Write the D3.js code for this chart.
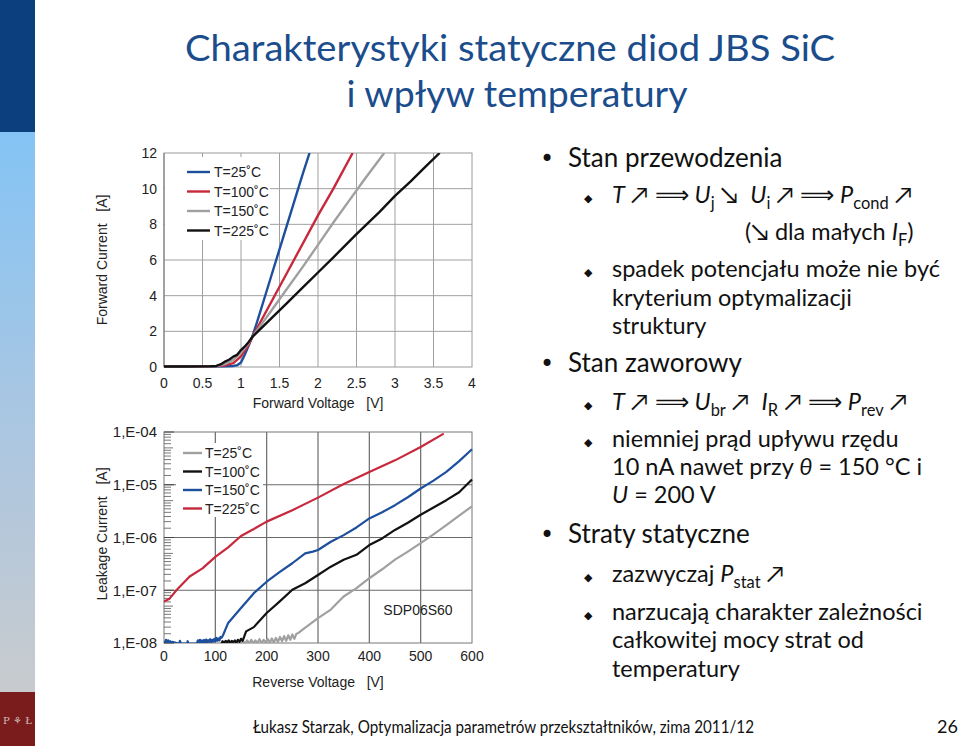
<!DOCTYPE html>
<html><head><meta charset="utf-8">
<script src="https://cdn.jsdelivr.net/npm/d3@7"></script>
<style>body{margin:0;background:#fff}svg{display:block}</style>
</head><body><svg id="c" width="960" height="746"></svg>
<script>
// ---------------- DATA ----------------
const tempLabels = ["T=25˚C", "T=100˚C", "T=150˚C", "T=225˚C"];
// Forward characteristics (V in volts, I in amperes)
const fwdV25  = [0,0.3,0.6,0.8,0.9,0.95,1.0,1.05,1.1,1.15,1.2,1.3,1.4,1.5,1.6,1.7,1.8,1.89];
const fwdI25  = [0.02,0.02,0.03,0.04,0.06,0.1,0.25,0.7,1.2,1.75,2.4,3.8,5.2,6.6,8.0,9.4,10.8,12];
const fwdV100 = [0,0.3,0.6,0.7,0.8,0.9,1.0,1.1,1.15,1.2,1.4,1.6,1.8,2.0,2.2,2.45];
const fwdI100 = [0.03,0.03,0.04,0.05,0.1,0.22,0.6,1.25,1.7,2.1,3.7,5.3,6.9,8.5,10.0,12];
const fwdV150 = [0,0.3,0.6,0.7,0.8,0.9,1.0,1.1,1.15,1.2,1.4,1.6,1.8,2.0,2.2,2.4,2.6,2.86];
const fwdI150 = [0.02,0.02,0.03,0.06,0.18,0.4,0.8,1.35,1.7,2.0,3.2,4.4,5.6,6.85,8.1,9.3,10.5,12];
const fwdV225 = [0,0.3,0.6,0.68,0.75,0.8,0.85,0.9,0.95,1.0,1.05,1.1,1.15,1.4,1.6,1.8,2.0,2.2,2.5,2.8,3.0,3.2,3.4,3.58];
const fwdI225 = [0.03,0.03,0.04,0.06,0.18,0.32,0.42,0.58,0.68,0.95,1.15,1.4,1.7,2.75,3.6,4.45,5.3,6.15,7.45,8.7,9.6,10.4,11.25,12];
const fwdXTicks = [0,0.5,1,1.5,2,2.5,3,3.5,4];
const fwdXTickLabels = ["0","0.5","1","1.5","2","2.5","3","3.5","4"];
const fwdYTicks = [0,2,4,6,8,10,12];

// Leakage characteristics (V in volts, I in amperes)
const leakV25  = [150,154,158,162,166,170,174,178,182,186,190,194,198,202,206,210,214,218,222,226,230,234,238,242,246,250,254,258,262,270,300,325,350,375,400,425,450,475,500,525,550,575,600];
const leakI25  = [0.97e-8,1.1e-8,0.97e-8,1.12e-8,0.98e-8,1.15e-8,0.98e-8,1.12e-8,1.0e-8,1.18e-8,1.0e-8,1.15e-8,1.02e-8,1.2e-8,1.0e-8,1.22e-8,1.02e-8,1.25e-8,1.05e-8,1.3e-8,1.08e-8,1.35e-8,1.1e-8,1.4e-8,1.15e-8,1.45e-8,1.2e-8,1.5e-8,1.55e-8,1.8e-8,2.96e-8,4.3e-8,7.6e-8,1.1e-7,1.69e-7,2.5e-7,3.8e-7,5.4e-7,7.8e-7,1.15e-6,1.72e-6,2.6e-6,3.9e-6];
const leakV100 = [112,114,117,120,123,126,129,132,135,138,141,144,147,150,153,156,160,175,200,225,250,275,300,325,350,375,400,425,450,475,500,525,550,575,600];
const leakI100 = [0.97e-8,1.08e-8,1.0e-8,1.1e-8,1.02e-8,1.12e-8,1.0e-8,1.1e-8,1.03e-8,1.12e-8,1.0e-8,1.15e-8,1.05e-8,1.2e-8,1.1e-8,1.3e-8,1.66e-8,2.0e-8,3.7e-8,6.1e-8,1.02e-7,1.36e-7,1.95e-7,2.8e-7,3.8e-7,4.7e-7,7.2e-7,9.6e-7,1.39e-6,1.9e-6,2.7e-6,3.7e-6,5.1e-6,7.2e-6,1.26e-5];
const leakV150 = [0,2,4,6,8,10,12,14,16,30,31,33,45,46,48,64,66,68,70,72,74,76,78,80,82,84,86,88,90,92,94,96,98,100,102,104,106,108,110,112,115,125,150,175,200,225,250,275,290,300,325,350,375,400,425,450,475,500,525,550,575,600];
const leakI150 = [1.1e-8,0.95e-8,1.15e-8,0.98e-8,1.12e-8,1.0e-8,1.08e-8,0.97e-8,1.05e-8,0.97e-8,1.1e-8,0.97e-8,0.97e-8,1.08e-8,0.97e-8,0.97e-8,1.12e-8,1.0e-8,1.15e-8,1.02e-8,1.12e-8,1.0e-8,1.14e-8,1.03e-8,1.16e-8,1.02e-8,1.13e-8,1.05e-8,1.18e-8,1.04e-8,1.15e-8,1.06e-8,1.2e-8,1.08e-8,1.25e-8,1.1e-8,1.22e-8,1.12e-8,1.3e-8,1.25e-8,1.4e-8,2.4e-8,4.6e-8,8.8e-8,1.45e-7,2.2e-7,3.25e-7,5.0e-7,5.4e-7,5.8e-7,8.3e-7,1.11e-6,1.55e-6,2.3e-6,3.0e-6,4.1e-6,5.8e-6,8.5e-6,1.2e-5,1.75e-5,2.8e-5,4.7e-5];
const leakV225 = [0,10,25,50,75,100,125,150,175,200,250,300,350,400,450,500,545];
const leakI225 = [6.1e-8,6.8e-8,1.02e-7,1.82e-7,2.6e-7,4.3e-7,6.5e-7,1.07e-6,1.45e-6,2.0e-6,3.3e-6,5.7e-6,1.03e-5,1.75e-5,2.9e-5,5.2e-5,9.3e-5];
const leakXTicks = [0,100,200,300,400,500,600];
const leakYTicks = [1e-8,1e-7,1e-6,1e-5,1e-4];
const leakYTickLabels = ["1,E-08","1,E-07","1,E-06","1,E-05","1,E-04"];
const leakMinor = [1.5,2,2.5,3,3.5,4,4.5,5,6,7,8,9];

// ---------------- DRAW ----------------
const svg = d3.select("#c");
const chartFont = "'Liberation Sans', Arial, sans-serif";
const textFont = "Lato, 'Open Sans', sans-serif";
const defs = svg.append("defs");

// sidebar
const grad = defs.append("linearGradient").attr("id","side").attr("x1",0).attr("y1",0).attr("x2",0).attr("y2",1);
grad.append("stop").attr("offset","0").attr("stop-color","#84c4f5");
grad.append("stop").attr("offset","0.5").attr("stop-color","#a9c6e2");
grad.append("stop").attr("offset","1").attr("stop-color","#c8cbce");
svg.append("rect").attr("x",0).attr("y",0).attr("width",35).attr("height",132).attr("fill","#0b3f7e");
svg.append("rect").attr("x",0).attr("y",132).attr("width",35).attr("height",560).attr("fill","url(#side)");
svg.append("rect").attr("x",0).attr("y",692).attr("width",35).attr("height",54).attr("fill","#7b1c1c");
svg.append("text").attr("x",17.5).attr("y",724).attr("text-anchor","middle")
  .attr("font-family","'DejaVu Serif', serif").attr("font-size",10).attr("fill","#cdbdbd").text("P ⚘ Ł");

// title
const titleG = svg.append("g").attr("font-family",textFont).attr("fill","#1b4d8c").attr("font-size",36).attr("text-anchor","middle");
titleG.append("text").attr("x",510).attr("y",61).attr("textLength",650).attr("lengthAdjust","spacingAndGlyphs").text("Charakterystyki statyczne diod JBS SiC");
titleG.append("text").attr("x",517).attr("y",107).attr("textLength",341).attr("lengthAdjust","spacingAndGlyphs").text("i wpływ temperatury");

// ---- forward chart ----
const xF = d3.scaleLinear().domain([0,4]).range([164,472]);
const yF = d3.scaleLinear().domain([0,12]).range([367,153]);
const gF = svg.append("g").attr("font-family",chartFont);
gF.append("g").selectAll("line").data(fwdXTicks.slice(1,-1)).join("line")
  .attr("x1",d=>xF(d)).attr("x2",d=>xF(d)).attr("y1",yF(0)).attr("y2",yF(12)).attr("stroke","#a0a0a0").attr("stroke-width",1);
gF.append("g").selectAll("line").data(fwdYTicks.slice(1,-1)).join("line")
  .attr("x1",xF(0)).attr("x2",xF(4)).attr("y1",d=>yF(d)).attr("y2",d=>yF(d)).attr("stroke","#a0a0a0").attr("stroke-width",1);
// legend background
gF.append("rect").attr("x",xF(0)+1).attr("y",yF(12)+4).attr("width",270-xF(0)-1).attr("height",240-yF(12)-4).attr("fill","#fff");
gF.append("rect").attr("x",xF(0)).attr("y",yF(12)).attr("width",xF(4)-xF(0)).attr("height",yF(0)-yF(12))
  .attr("fill","none").attr("stroke","#9a9a9a").attr("stroke-width",1);
gF.append("line").attr("x1",xF(0)).attr("x2",xF(0)).attr("y1",yF(0)).attr("y2",yF(12)).attr("stroke","#777");
gF.append("g").selectAll("text").data(fwdYTicks).join("text")
  .attr("x",157).attr("y",d=>yF(d)).attr("dy","0.36em").attr("text-anchor","end").attr("font-size",14).attr("fill","#222").text(d=>d);
gF.append("g").selectAll("text").data(fwdXTicks).join("text")
  .attr("x",d=>xF(d)).attr("y",388).attr("text-anchor","middle").attr("font-size",14).attr("fill","#222").text((d,i)=>fwdXTickLabels[i]);
gF.append("text").attr("x",318).attr("y",408).attr("text-anchor","middle").attr("font-size",14).attr("fill","#222")
  .attr("xml:space","preserve").text("Forward Voltage   [V]");
gF.append("text").attr("transform","translate(107,260) rotate(-90)").attr("text-anchor","middle").attr("font-size",14).attr("fill","#222")
  .attr("xml:space","preserve").text("Forward Current   [A]");

const fwdSeries = [
  {v:fwdV25,i:fwdI25,c:"#1d4f9c",name:tempLabels[0]},
  {v:fwdV100,i:fwdI100,c:"#c8283c",name:tempLabels[1]},
  {v:fwdV150,i:fwdI150,c:"#a0a0a0",name:tempLabels[2]},
  {v:fwdV225,i:fwdI225,c:"#111111",name:tempLabels[3]}
];
defs.append("clipPath").attr("id","clipF").append("rect").attr("x",xF(0)).attr("y",yF(12)).attr("width",xF(4)-xF(0)).attr("height",yF(0)-yF(12)+2);
const lineF = d3.line().x(d=>xF(d[0])).y(d=>yF(d[1]));
gF.append("g").attr("clip-path","url(#clipF)").selectAll("path").data(fwdSeries).join("path")
  .attr("d",s=>lineF(s.v.map((v,k)=>[v,s.i[k]]))).attr("fill","none").attr("stroke",s=>s.c).attr("stroke-width",2.4).attr("stroke-linejoin","round");
const legF = gF.append("g");
fwdSeries.forEach((s,k)=>{
  const y = 172 + k*19.5;
  legF.append("line").attr("x1",187).attr("x2",210).attr("y1",y).attr("y2",y).attr("stroke",s.c).attr("stroke-width",2.4);
  legF.append("text").attr("x",214).attr("y",y).attr("dy","0.36em").attr("font-size",14).attr("fill","#222").text(s.name);
});

// ---- leakage chart ----
const xL = d3.scaleLinear().domain([0,600]).range([164,472]);
const yL = d3.scaleLog().domain([1e-8,1e-4]).range([643,432]);
const gL = svg.append("g").attr("font-family",chartFont);
gL.append("g").selectAll("line").data(leakXTicks.slice(1,-1)).join("line")
  .attr("x1",d=>xL(d)).attr("x2",d=>xL(d)).attr("y1",yL(1e-8)).attr("y2",yL(1e-4)).attr("stroke","#6a6a6a").attr("stroke-width",1.2);
gL.append("g").selectAll("line").data(leakYTicks.slice(1,-1)).join("line")
  .attr("x1",xL(0)).attr("x2",xL(600)).attr("y1",d=>yL(d)).attr("y2",d=>yL(d)).attr("stroke","#6a6a6a").attr("stroke-width",1.2);
// legend background
gL.append("rect").attr("x",xL(0)+12).attr("y",443).attr("width",263-xL(0)-12).attr("height",74).attr("fill","#fff");
gL.append("rect").attr("x",xL(0)).attr("y",yL(1e-4)).attr("width",xL(600)-xL(0)).attr("height",yL(1e-8)-yL(1e-4))
  .attr("fill","none").attr("stroke","#777").attr("stroke-width",1);
const minorVals = [];
[1e-8,1e-7,1e-6,1e-5].forEach(dec=>leakMinor.forEach(m=>minorVals.push(dec*m)));
gL.append("g").selectAll("line").data(minorVals).join("line")
  .attr("x1",xL(0)).attr("x2",d=>xL(0)+ (Math.abs(d/Math.pow(10,Math.floor(Math.log10(d)+1e-9))-5)<1e-6 ? 9 : 7))
  .attr("y1",d=>yL(d)).attr("y2",d=>yL(d)).attr("stroke","#555").attr("stroke-width",0.8);
gL.append("g").selectAll("line").data(leakYTicks).join("line")
  .attr("x1",xL(0)).attr("x2",xL(0)+10).attr("y1",d=>yL(d)).attr("y2",d=>yL(d)).attr("stroke","#444").attr("stroke-width",1);
gL.append("g").selectAll("text").data(leakYTicks).join("text")
  .attr("x",157).attr("y",d=>yL(d)).attr("dy","0.36em").attr("text-anchor","end").attr("font-size",15).attr("fill","#222").text((d,i)=>leakYTickLabels[i]);
gL.append("g").selectAll("text").data(leakXTicks).join("text")
  .attr("x",d=>xL(d)).attr("y",661).attr("text-anchor","middle").attr("font-size",14).attr("fill","#222").text(d=>d);
gL.append("text").attr("x",318).attr("y",687).attr("text-anchor","middle").attr("font-size",14).attr("fill","#222")
  .attr("xml:space","preserve").text("Reverse Voltage   [V]");
gL.append("text").attr("transform","translate(107,534) rotate(-90)").attr("text-anchor","middle").attr("font-size",14).attr("fill","#222")
  .attr("xml:space","preserve").text("Leakage Current   [A]");
gL.append("text").attr("x",418).attr("y",615).attr("text-anchor","middle").attr("font-size",14).attr("fill","#222").text("SDP06S60");

const leakSeries = [
  {v:leakV25,i:leakI25,c:"#a0a0a0",name:tempLabels[0]},
  {v:leakV100,i:leakI100,c:"#111111",name:tempLabels[1]},
  {v:leakV150,i:leakI150,c:"#1d4f9c",name:tempLabels[2]},
  {v:leakV225,i:leakI225,c:"#c8283c",name:tempLabels[3]}
];
defs.append("clipPath").attr("id","clipL").append("rect").attr("x",xL(0)).attr("y",yL(1e-4)).attr("width",xL(600)-xL(0)+2).attr("height",yL(1e-8)-yL(1e-4));
const lineL = d3.line().x(d=>xL(d[0])).y(d=>yL(d[1]));
gL.append("g").attr("clip-path","url(#clipL)").selectAll("path").data(leakSeries).join("path")
  .attr("d",s=>lineL(s.v.map((v,k)=>[v,s.i[k]]))).attr("fill","none").attr("stroke",s=>s.c).attr("stroke-width",2.2).attr("stroke-linejoin","round");
const legL = gL.append("g");
leakSeries.forEach((s,k)=>{
  const y = 453 + k*18.5;
  legL.append("line").attr("x1",183).attr("x2",202).attr("y1",y).attr("y2",y).attr("stroke",s.c).attr("stroke-width",2.4);
  legL.append("text").attr("x",205).attr("y",y).attr("dy","0.36em").attr("font-size",14).attr("fill","#222").text(s.name);
});

// ---- right-hand text ----
const rt = svg.append("g").attr("font-family",textFont).attr("fill","#111");
function richLine(x, y, size, segs){
  const t = rt.append("text").attr("x",x).attr("y",y).attr("font-size",size).attr("xml:space","preserve");
  let sub = false;
  segs.forEach(([txt, st])=>{
    const ts = t.append("tspan").text(txt);
    if (st==="s"){ ts.attr("font-size",size*0.7).attr("font-style","normal"); if(!sub){ts.attr("dy",6); sub=true;} }
    else { if (sub){ ts.attr("dy",-6); sub=false; } if (st==="i") ts.attr("font-style","italic"); }
  });
  return t;
}
function mainBullet(y, txt){
  rt.append("text").attr("x",540).attr("y",y).attr("font-size",24).attr("font-family","'DejaVu Sans'").text("•");
  richLine(568, y, 26, [[txt,""]]);
}
function subBullet(y){
  rt.append("text").attr("x",584).attr("y",y-1).attr("font-size",11).attr("font-family","'DejaVu Sans'").text("◆");
}
const S = 23.5;
mainBullet(167, "Stan przewodzenia");
subBullet(203);
richLine(612, 203, S, [["T","i"],[" ↗ ⟹ ",""],["U","i"],["j","s"],[" ↘  ",""],["U","i"],["i","s"],[" ↗ ⟹ ",""],["P","i"],["cond","s"],[" ↗",""]]);
richLine(745, 240, S, [["(↘ dla małych ",""],["I","i"],["F","s"],[")",""]]);
subBullet(277);
richLine(612, 277, S, [["spadek potencjału może nie być",""]]);
richLine(612, 306, S, [["kryterium optymalizacji",""]]);
richLine(612, 334, S, [["struktury",""]]);
mainBullet(372, "Stan zaworowy");
subBullet(410);
richLine(612, 410, S, [["T","i"],[" ↗ ⟹ ",""],["U","i"],["br","s"],[" ↗  ",""],["I","i"],["R","s"],[" ↗ ⟹ ",""],["P","i"],["rev","s"],[" ↗",""]]);
subBullet(447);
richLine(612, 447, S, [["niemniej prąd upływu rzędu",""]]);
richLine(612, 475, S, [["10 nA nawet przy ",""],["θ","i"],[" = 150 °C i",""]]);
richLine(612, 503, S, [["U","i"],[" = 200 V",""]]);
mainBullet(543, "Straty statyczne");
subBullet(582);
richLine(612, 582, S, [["zazwyczaj ",""],["P","i"],["stat","s"],[" ↗",""]]);
subBullet(620);
richLine(612, 620, S, [["narzucają charakter zależności",""]]);
richLine(612, 648, S, [["całkowitej mocy strat od",""]]);
richLine(612, 677, S, [["temperatury",""]]);

// footer
svg.append("text").attr("x",253).attr("y",733).attr("font-family",textFont).attr("font-size",18).attr("fill","#111")
  .attr("textLength",501).attr("lengthAdjust","spacingAndGlyphs").text("Łukasz Starzak, Optymalizacja parametrów przekształtników, zima 2011/12");
svg.append("text").attr("x",958).attr("y",733).attr("text-anchor","end").attr("font-family",textFont).attr("font-size",18).attr("fill","#111").text("26");
</script></body></html>
